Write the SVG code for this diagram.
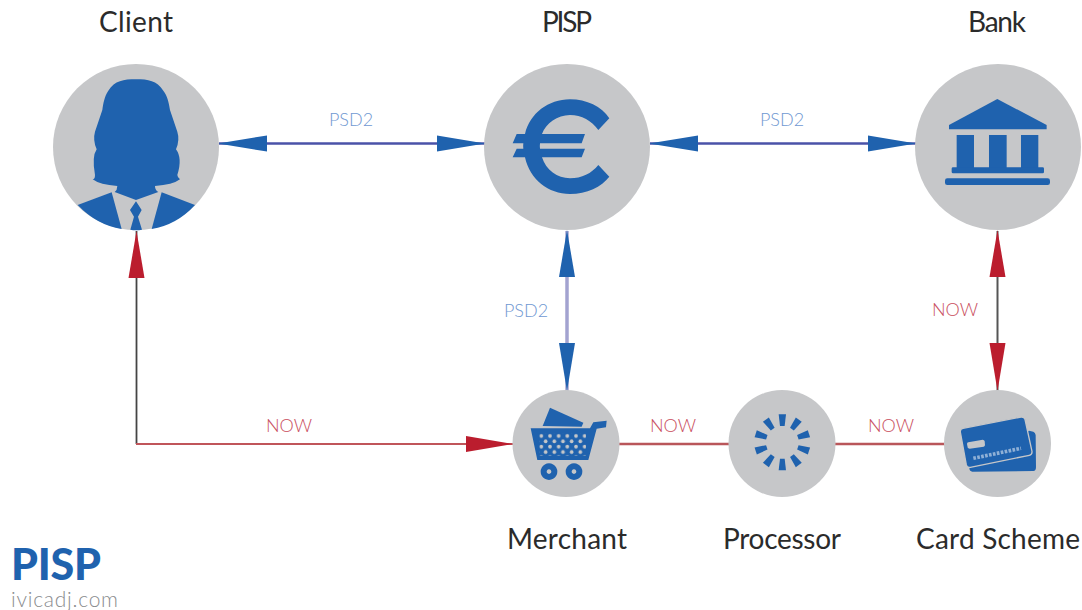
<svg xmlns="http://www.w3.org/2000/svg" width="1082" height="610" viewBox="0 0 1082 610">
<style>
text{font-family:"Lato","Liberation Sans",sans-serif}
.node{fill:#c6c7c9}
.ic{fill:#1f62ae}
.name{font-size:28px;fill:#2b2b2b;text-anchor:middle;font-weight:400}
.psd{font-size:18px;fill:#6f98d2;text-anchor:middle;font-weight:300}
.now{font-size:18px;fill:#c94f5e;text-anchor:middle;font-weight:300}
.blue{fill:#1f62ae}
.red{fill:#bb1d2e}
</style>
<defs>
<pattern id="dots" width="26" height="32" patternUnits="userSpaceOnUse" x="118" y="160">
<circle cx="6" cy="8" r="5.500" fill="#c6c7c9"/><circle cx="19" cy="24" r="5.500" fill="#c6c7c9"/>
</pattern>
<polygon id="dash" points="176,103 198,103 194,138 180,138"/>
</defs>
<g id="connectors">
<path d="M219 143.500H485" stroke="#4a52a8" stroke-width="2.500" fill="none"/>
<path d="M650 143.500H916" stroke="#4a52a8" stroke-width="2.500" fill="none"/>
<path d="M567 231V391" stroke="#a3a3d0" stroke-width="3.500" fill="none"/>
<path d="M997.500 231V391" stroke="#555" stroke-width="2" fill="none"/>
<path d="M136.500 231V444" stroke="#444" stroke-width="1.800" fill="none"/>
<path d="M136 444H514" stroke="#c0555a" stroke-width="2" fill="none"/>
<path d="M618 444H946" stroke="#b9565a" stroke-width="2.500" fill="none"/>
<polygon class="blue" points="218,143.500 267,135.500 267,151.500"/>
<polygon class="blue" points="485,143.500 437,135.500 437,151.500"/>
<polygon class="blue" points="649,143.500 698,135.500 698,151.500"/>
<polygon class="blue" points="916,143.500 868,135.500 868,151.500"/>
<polygon class="blue" points="567,230 559,277 575,277"/>
<polygon class="blue" points="567,391 559,343 575,343"/>
<polygon class="red" points="997.500,230 989.500,277 1005.500,277"/>
<polygon class="red" points="997.500,391 989.500,343 1005.500,343"/>
<polygon class="red" points="136.500,231 128.500,278 144.500,278"/>
<polygon class="red" points="513,444 466,436 466,452"/>
</g>
<g id="edge-labels">
<text class="psd" x="351" y="126">PSD2</text>
<text class="psd" x="782" y="126">PSD2</text>
<text class="psd" x="526" y="317">PSD2</text>
<text class="now" x="955" y="316">NOW</text>
<text class="now" x="289" y="432">NOW</text>
<text class="now" x="673" y="432">NOW</text>
<text class="now" x="891" y="432">NOW</text>
</g>
<g id="client">
<circle class="node" cx="136" cy="147" r="83"/>
<g class="ic" transform="translate(40 60) scale(.3333)">
<path d="M288 58C250 58 225 62 205 92C193 110 190 130 187 150L165 215Q158 240 170 268Q155 290 165 345Q165 358 158 358Q180 375 232 378Q232 390 224 396L288 420L355 396Q345 390 345 378Q398 375 420 358Q412 350 412 345Q428 295 408 268Q420 240 412 215L390 150C386 125 382 108 370 92C350 62 325 58 288 58Z"/>
<path d="M113 435L215 397L245 507Q170 495 113 435Z"/>
<path d="M465 435L365 397L335 507Q410 495 465 435Z"/>
<path d="M288 424L305 450L294 470L306 509Q288 513 271 509L282 470L270 450Z"/>
</g>
<text class="name" x="136" y="32" textLength="74">Client</text>
</g>
<g id="pisp">
<circle class="node" cx="567" cy="147" r="83"/>
<g class="ic" transform="translate(470 60) scale(.3333)">
<path d="M418 175C395 140 350 118 300 118C235 118 180 160 165 222L140 222L128 250L160 250Q159 258 160 266L140 266L128 292L165 292C180 360 235 402 300 402C350 402 395 380 418 350L385 315C365 340 335 355 300 355C262 355 228 330 216 292L335 292L345 266L210 266Q209 258 210 250L335 250L345 222L216 222C228 190 262 165 300 165C335 165 365 182 385 210Z"/>
</g>
<text class="name" x="567" y="32" textLength="50">PISP</text>
</g>
<g id="bank">
<circle class="node" cx="998" cy="147" r="83"/>
<g class="ic" transform="translate(900 60) scale(.3333)">
<path d="M292 117L440 195V208H147V195Z"/>
<rect x="170" y="225" width="52" height="100"/>
<rect x="267" y="225" width="53" height="100"/>
<rect x="363" y="225" width="52" height="100"/>
<rect x="155" y="322" width="277" height="18" rx="4"/>
<rect x="135" y="355" width="315" height="20" rx="7"/>
</g>
<text class="name" x="997" y="32" textLength="58">Bank</text>
</g>
<g id="merchant">
<circle class="node" cx="566" cy="443.500" r="53.500"/>
<g class="ic" transform="translate(500 380) scale(.3333)">
<path d="M150 83L250 128L245 140L128 138Z"/>
<path d="M92 145H270L280 127L320 122L318 142L290 146L265 240H112Z"/>
<rect x="118" y="160" width="140" height="68" fill="url(#dots)"/>
<path fill-rule="evenodd" d="M147 250a25 25 0 1 0 .01 0ZM147 268a7 7 0 1 1 -.01 0ZM222 250a25 25 0 1 0 .01 0ZM222 268a7 7 0 1 1 -.01 0Z"/>
</g>
<text class="name" x="567" y="549" textLength="120">Merchant</text>
</g>
<g id="processor">
<circle class="node" cx="782" cy="443.500" r="53.500"/>
<g class="ic" transform="translate(720 380) scale(.3333)">
<use href="#dash"/>
<use href="#dash" transform="rotate(36 187 187)"/>
<use href="#dash" transform="rotate(72 187 187)"/>
<use href="#dash" transform="rotate(108 187 187)"/>
<use href="#dash" transform="rotate(144 187 187)"/>
<use href="#dash" transform="rotate(180 187 187)"/>
<use href="#dash" transform="rotate(216 187 187)"/>
<use href="#dash" transform="rotate(252 187 187)"/>
<use href="#dash" transform="rotate(288 187 187)"/>
<use href="#dash" transform="rotate(324 187 187)"/>
</g>
<text class="name" x="782" y="549" textLength="118">Processor</text>
</g>
<g id="card-scheme">
<circle class="node" cx="997.500" cy="443.500" r="53.500"/>
<g transform="translate(935 380) scale(.3333)">
<path class="ic" d="M282 152L295 155Q301 157 302 165L303 262Q303 273 295 273L112 275Q104 275 103 265Z"/>
<path class="ic" stroke="#c6c7c9" stroke-width="4" d="M84 145L258 111Q268 110 270 118L291 214Q292 224 283 226L106 262Q96 264 94 255L76 156Q75 147 84 145Z"/>
<path d="M100 187L143 179Q148 179 149 184L150 195Q150 199 146 200L104 206Q99 206 98 202L96 192Q96 188 100 187Z" fill="#c6c7c9"/>
<path d="M115 235L258 205" stroke="#8fb0d6" stroke-width="11" stroke-dasharray="8 4" fill="none"/>
</g>
<text class="name" x="998" y="549" textLength="164">Card Scheme</text>
</g>
<g id="logo">
<text x="11" y="580" textLength="90" style="font-size:43px;font-weight:900;fill:#1f62ae">PISP</text>
<text x="11" y="607" textLength="107" style="font-size:21px;font-weight:300;fill:#8a8c8e">ivicadj.com</text>
</g>
</svg>
